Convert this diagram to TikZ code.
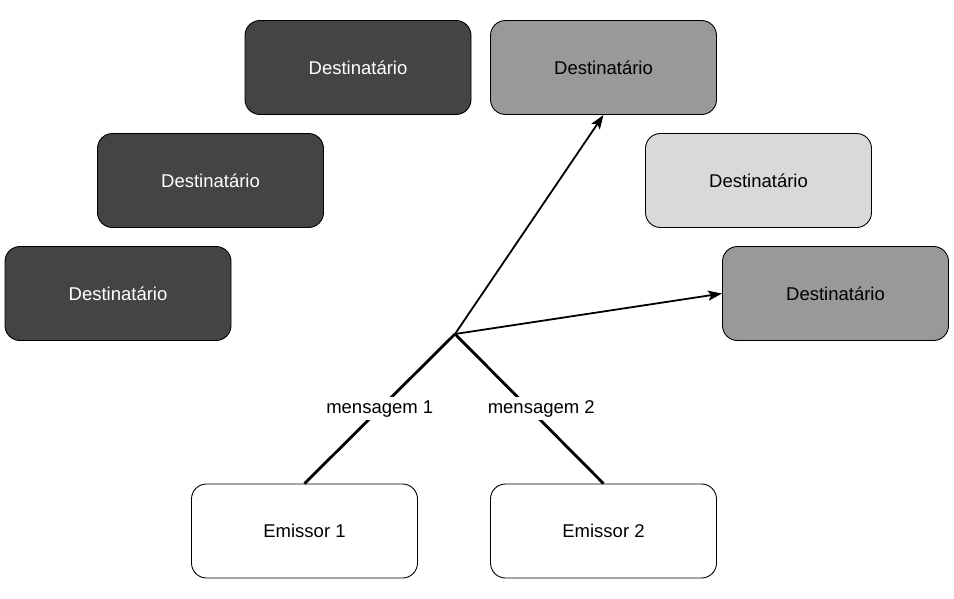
\documentclass[tikz,border=0pt]{standalone}
\usepackage{fontspec}
\setmainfont{Liberation Sans}
\usepackage{xcolor}
\usetikzlibrary{positioning,arrows.meta}
\definecolor{escuro}{HTML}{444444}
\definecolor{medio}{HTML}{999999}
\definecolor{claro}{HTML}{D9D9D9}

\begin{document}
\begin{tikzpicture}[x=1pt, y=-1pt,
  box/.style = {draw, line width=0.9pt, rounded corners=15pt, minimum width=226pt, minimum height=94pt, font=\fontsize{18.5}{22}\selectfont},
  dest/.style = {box, fill=escuro, text=white},
  emis/.style = {box, fill=white},
  msg/.style = {line width=2.8pt},
  seta/.style = {line width=1.8pt, -{Stealth[length=14pt, width=10pt, inset=3pt]}},
  rot/.style = {fill=white, inner sep=3pt, font=\fontsize{18.5}{22}\selectfont}]
      \useasboundingbox (0,0) rectangle (954,598);
      %% destinatarios a esquerda
      \node[dest] (d1) at (358,67.5) {Destinatário};
      \node[dest] (d2) at (210.5,180.5) {Destinatário};
      \node[dest] (d3) at (118,293.5) {Destinatário};
      %% destinatarios a direita
      \node[box, fill=medio] (d4) at (603.5,67.5) {Destinatário};
      \node[box, fill=claro] (d5) at (758.5,180.5) {Destinatário};
      \node[box, fill=medio] (d6) at (835.5,293.5) {Destinatário};
      %% emissores
      \node[emis] (e1) at (304.5,531) {Emissor 1};
      \node[emis] (e2) at (603.5,531) {Emissor 2};
      \coordinate (j) at (455,334);
      \draw[msg] (e1.north) -- node[rot] {mensagem 1} (j);
      \draw[msg] (e2.north) -- node[rot, xshift=12pt] {mensagem 2} (j);
      \draw[seta] (j) -- (d4.south);
      \draw[seta] (j) -- (d6.west);
\end{tikzpicture}
\end{document}
